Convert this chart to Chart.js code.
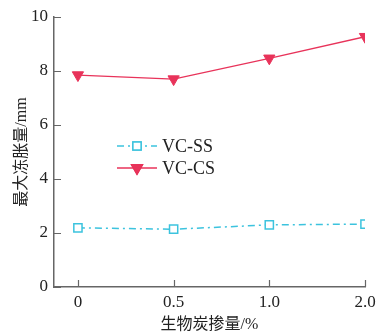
<!DOCTYPE html>
<html>
<head>
<meta charset="utf-8">
<script src="https://cdn.jsdelivr.net/npm/chart.js@4"></script>
<style>
  html, body { margin: 0; padding: 0; background: #fff; }
  #wrap { width: 383px; height: 334px; }
</style>
</head>
<body>
<div id="wrap"><canvas id="lineChart" width="383" height="334"></canvas></div>
<script>
const labels = ["0", "0.5", "1.0", "2.0"];
const ssValues = [2.19, 2.14, 2.3, 2.33];
const csValues = [7.85, 7.7, 8.47, 9.27];
const yTicks = [0, 2, 4, 6, 8, 10];

const serif = "'Liberation Serif', 'Noto Sans CJK SC', serif";
const axisColor = "#666";

// tick marks point into the plot, so draw them by hand
const innerTicks = {
  id: "innerTicks",
  afterDraw(chart) {
    const c = chart.ctx, x = chart.scales.x, y = chart.scales.y;
    c.save();
    c.strokeStyle = axisColor;
    c.lineWidth = 1.2;
    c.beginPath();
    yTicks.forEach(v => {
      const py = Math.round(y.getPixelForValue(v)) + 0.5;
      c.moveTo(x.left, py);
      c.lineTo(x.left + 7, py);
    });
    labels.forEach((l, i) => {
      const px = Math.round(x.getPixelForValue(i)) + 0.5;
      c.moveTo(px, y.bottom);
      c.lineTo(px, y.bottom - 7);
    });
    c.stroke();

    // legend inside the plot
    const rows = [146, 168];
    chart.data.datasets.forEach((ds, i) => {
      const ly = rows[i];
      c.strokeStyle = ds.borderColor;
      c.lineWidth = ds.borderWidth;
      c.setLineDash(ds.borderDash || []);
      c.beginPath();
      c.moveTo(117, ly);
      c.lineTo(157, ly);
      c.stroke();
      c.setLineDash([]);
      Chart.helpers.drawPoint(c, {
        pointStyle: ds.pointStyle,
        rotation: ds.pointRotation || 0,
        radius: ds.pointRadius,
        borderWidth: ds.pointBorderWidth
      }, 137, ly);
      c.fillStyle = ds.pointBackgroundColor;
      c.strokeStyle = ds.borderColor;
      c.lineWidth = ds.pointBorderWidth;
      c.fill();
      c.stroke();
      c.fillStyle = "#222";
      c.font = "18px " + serif;
      c.textBaseline = "middle";
      c.fillText(ds.label, 162, ly + 1);
    });
    c.restore();
  }
};

const ctx = document.getElementById("lineChart").getContext("2d");
const chart = new Chart(ctx, {
  type: "line",
  data: {
    datasets: [
      {
        label: "VC-SS",
        data: ssValues.map((v, i) => ({ x: i, y: v })),
        borderColor: "#3cc3de",
        borderWidth: 1.5,
        borderDash: [7, 4, 2, 4],
        pointStyle: "rect",
        pointRadius: 5.8,
        pointBorderWidth: 1.5,
        pointBackgroundColor: "#fff",
        pointBorderColor: "#3cc3de",
        tension: 0
      },
      {
        label: "VC-CS",
        data: csValues.map((v, i) => ({ x: i, y: v })),
        borderColor: "#e8335a",
        borderWidth: 1.3,
        pointStyle: "triangle",
        pointRotation: 180,
        pointRadius: 6.5,
        pointBorderWidth: 1,
        pointBackgroundColor: "#e8335a",
        pointBorderColor: "#e8335a",
        tension: 0
      }
    ]
  },
  options: {
    responsive: false,
    animation: false,
    layout: { padding: { top: 17, right: 18, left: 8, bottom: 0 } },
    plugins: { legend: { display: false }, tooltip: { enabled: false } },
    scales: {
      x: {
        type: "linear",
        min: -0.25,
        max: 3,
        afterBuildTicks(scale) {
          scale.ticks = labels.map((l, i) => ({ value: i }));
        },
        afterFit(scale) { scale.height = 47; },
        grid: { display: false, drawTicks: false },
        border: { display: true, color: axisColor, width: 1.5 },
        ticks: {
          padding: 5,
          color: "#222",
          font: { family: serif, size: 17 },
          maxRotation: 0,
          callback: (v) => labels[v]
        },
        title: {
          display: true,
          text: "生物炭掺量/%",
          color: "#222",
          font: { family: serif, size: 16 },
          padding: { top: 0, bottom: 0 }
        }
      },
      y: {
        min: 0,
        max: 10,
        afterBuildTicks(scale) {
          scale.ticks = yTicks.map(v => ({ value: v }));
        },
        afterFit(scale) { scale.width = 46; },
        grid: { display: false, drawTicks: false },
        border: { display: true, color: axisColor, width: 1.5 },
        ticks: {
          padding: 6,
          color: "#222",
          font: { family: serif, size: 17 }
        },
        title: {
          display: true,
          text: "最大冻胀量/mm",
          color: "#222",
          font: { family: serif, size: 16 },
          padding: { top: 4, bottom: 0 }
        }
      }
    }
  },
  plugins: [innerTicks]
});
</script>
</body>
</html>
